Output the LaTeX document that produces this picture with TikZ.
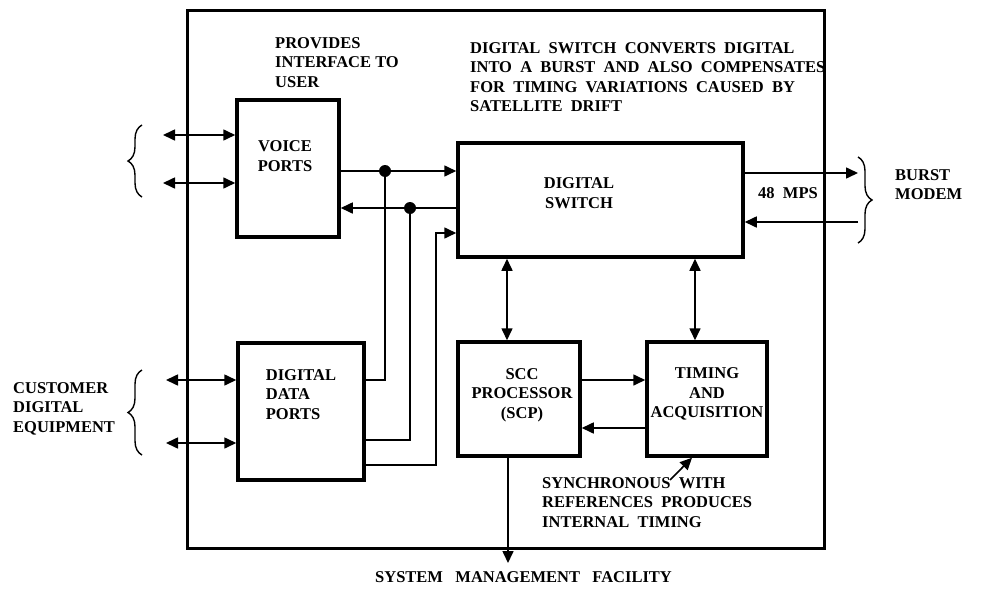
\documentclass[tikz,border=0pt]{standalone}
\usepackage{fontspec}
\setmainfont{Liberation Serif}
\usetikzlibrary{arrows.meta,decorations.pathreplacing}

\tikzset{
  every node/.style={font=\bfseries\fontsize{16.5}{19.5}\selectfont},
  unit/.style={draw, line width=3.5pt, inner sep=0pt},
  unittext/.style={align=center, inner sep=0pt},
  conn/.style={line width=1.6pt, >={Triangle[length=12pt,width=11pt]}},
  note/.style={align=left, inner sep=0pt, anchor=north west},
  dot/.style={circle, fill, inner sep=0pt, minimum size=12pt},
  curly/.style={decorate, decoration={brace, amplitude=14pt}, line width=1.4pt}
}

\begin{document}
\begin{tikzpicture}[x=1pt, y=-1pt]
    \useasboundingbox (0,0) rectangle (988,589);
    % outer frame
    \draw[line width=3pt] (187,10) rectangle (824,548);

    % units
    \node[unit, minimum width=102pt, minimum height=137pt,
      label={[unittext, xshift=-3pt, yshift=12.5pt]center:VOICE\\PORTS}] (voice) at (288,168.5) {};
    \node[unit, minimum width=285pt, minimum height=114pt,
      label={[unittext, xshift=-21.5pt, yshift=7pt]center:DIGITAL\\SWITCH}] (switch) at (600.5,200) {};
    \node[unit, minimum width=126pt, minimum height=137pt,
      label={[unittext, align=left, yshift=17pt]center:DIGITAL\\DATA\\PORTS}] (ddp) at (301,411.5) {};
    \node[unit, minimum width=122pt, minimum height=114pt,
      label={[unittext, xshift=3pt, yshift=4pt]center:SCC\\PROCESSOR\\(SCP)}] (scp) at (519,399) {};
    \node[unit, minimum width=120pt, minimum height=114pt,
      label={[unittext, yshift=5pt]center:TIMING\\AND\\ACQUISITION}] (timing) at (707,399) {};

    % notes
    \node[note] (usernote) at (275,37) {PROVIDES\\INTERFACE TO\\USER};
    \node[note] (switchnote) at (470,42) {DIGITAL\ \ SWITCH\ \ CONVERTS\ \ DIGITAL\\INTO\ \ A\ \ BURST\ \ AND\ \ ALSO\ \ COMPENSATES\\FOR\ \ TIMING\ \ VARIATIONS\ \ CAUSED\ \ BY\\SATELLITE\ \ DRIFT};
    \node[note] (syncnote) at (542,477) {SYNCHRONOUS\ \ WITH\\REFERENCES\ \ PRODUCES\\INTERNAL\ \ TIMING};
    \node[note] (custnote) at (13,382) {CUSTOMER\\DIGITAL\\EQUIPMENT};
    \node[note] (modemnote) at (895,169) {BURST\\MODEM};
    \node[note] (rate) at (758,187) {48\ \ MPS};
    \node[note] (sysnote) at (375,571) {SYSTEM\ \ \ MANAGEMENT\ \ \ FACILITY};

    % free ends and junctions
    \coordinate (vA) at (163,135);
    \coordinate (vB) at (163,183);
    \coordinate (dA) at (166,380);
    \coordinate (dB) at (166,443);
    \coordinate (mA) at (858,173);
    \coordinate (mB) at (858,222);
    \coordinate (jA) at (385,171);
    \coordinate (jB) at (410,208);
    \coordinate (jC) at (436,233);
    \coordinate (sysmgmt) at (508,563);
    \coordinate (syncptr) at (670,480);

    % user side
    \draw[conn, <->] (vA) -- (voice.west |- vA);
    \draw[conn, <->] (vB) -- (voice.west |- vB);
    \draw[conn, <->] (dA) -- (ddp.west |- dA);
    \draw[conn, <->] (dB) -- (ddp.west |- dB);
    \draw[curly] (142,197) -- (142,125);
    \draw[curly] (142,455) -- (142,370);

    % ports to switch
    \draw[conn, ->] (voice.east |- jA) -- (switch.west |- jA);
    \draw[conn, ->] (switch.west |- jB) -- (voice.east |- jB);
    \node[dot] (dotA) at (jA) {};
    \node[dot] (dotB) at (jB) {};
    \draw[conn] (dotA) |- (ddp.east |- 0,380);
    \draw[conn] (dotB) |- (ddp.east |- 0,440);
    \draw[conn, ->] (ddp.east |- 0,465) -| (jC) -- (switch.west |- jC);

    % switch, processor and timing
    \draw[conn, <->] (switch.south -| 507,0) -- (scp.north -| 507,0);
    \draw[conn, <->] (switch.south -| 695,0) -- (timing.north -| 695,0);
    \draw[conn, ->] (scp.east |- 0,380) -- (timing.west |- 0,380);
    \draw[conn, ->] (timing.west |- 0,428) -- (scp.east |- 0,428);
    \draw[conn, ->] (scp.south -| sysmgmt) -- (sysmgmt);
    \draw[conn, ->] (syncptr) -- (timing.south -| 692,0);

    % modem side
    \draw[conn, ->] (switch.east |- mA) -- (mA);
    \draw[conn, ->] (mB) -- (switch.east |- mB);
    \draw[curly] (858,157) -- (858,243);
\end{tikzpicture}
\end{document}
